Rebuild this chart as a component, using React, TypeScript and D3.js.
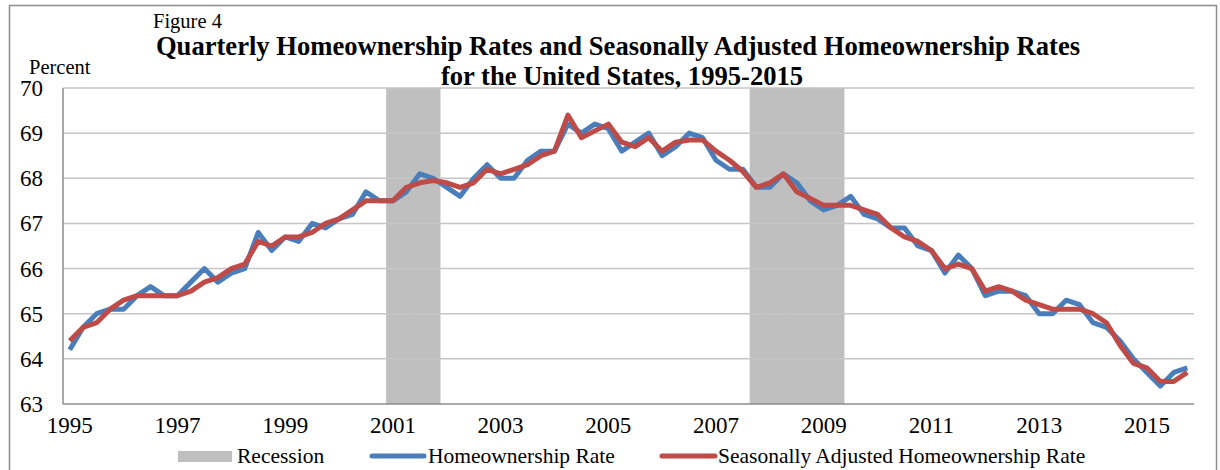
import { useEffect, useRef } from 'react';
import * as d3 from 'd3';

const years = d3.range(1995, 2016);
const quarters = years.flatMap(y => [1, 2, 3, 4].map(q => `${y}Q${q}`));

const homeownership = [
  64.2, 64.7, 65.0, 65.1,
  65.1, 65.4, 65.6, 65.4,
  65.4, 65.7, 66.0, 65.7,
  65.9, 66.0, 66.8, 66.4,
  66.7, 66.6, 67.0, 66.9,
  67.1, 67.2, 67.7, 67.5,
  67.5, 67.7, 68.1, 68.0,
  67.8, 67.6, 68.0, 68.3,
  68.0, 68.0, 68.4, 68.6,
  68.6, 69.2, 69.0, 69.2,
  69.1, 68.6, 68.8, 69.0,
  68.5, 68.7, 69.0, 68.9,
  68.4, 68.2, 68.2, 67.8,
  67.8, 68.1, 67.9, 67.5,
  67.3, 67.4, 67.6, 67.2,
  67.1, 66.9, 66.9, 66.5,
  66.4, 65.9, 66.3, 66.0,
  65.4, 65.5, 65.5, 65.4,
  65.0, 65.0, 65.3, 65.2,
  64.8, 64.7, 64.4, 64.0,
  63.7, 63.4, 63.7, 63.8,
];

const seasonallyAdjusted = [
  64.4, 64.7, 64.8, 65.1,
  65.3, 65.4, 65.4, 65.4,
  65.4, 65.5, 65.7, 65.8,
  66.0, 66.1, 66.6, 66.5,
  66.7, 66.7, 66.8, 67.0,
  67.1, 67.3, 67.5, 67.5,
  67.5, 67.8, 67.9, 67.95,
  67.9, 67.8, 67.9, 68.2,
  68.1, 68.2, 68.3, 68.5,
  68.6, 69.4, 68.9, 69.05,
  69.2, 68.8, 68.7, 68.9,
  68.6, 68.8, 68.85, 68.85,
  68.6, 68.4, 68.15, 67.8,
  67.9, 68.1, 67.7, 67.55,
  67.4, 67.4, 67.4, 67.3,
  67.2, 66.9, 66.7, 66.6,
  66.4, 66.0, 66.1, 66.0,
  65.5, 65.6, 65.5, 65.3,
  65.2, 65.1, 65.1, 65.1,
  65.0, 64.8, 64.3, 63.9,
  63.8, 63.5, 63.5, 63.7,
];

// quarters in recession (2001Q1-2001Q4, 2007Q4-2009Q2)
const recessionQuarters = [
  '2001Q1', '2001Q2', '2001Q3', '2001Q4',
  '2007Q4', '2008Q1', '2008Q2', '2008Q3', '2008Q4', '2009Q1', '2009Q2',
];

const yTicks = [63, 64, 65, 66, 67, 68, 69, 70];
const xTickYears = ['1995', '1997', '1999', '2001', '2003', '2005', '2007', '2009', '2011', '2013', '2015'];

const W = 1220;
const H = 470;
const FONT = '"Liberation Serif", "Times New Roman", serif';

export default function App() {
  const svgRef = useRef<SVGSVGElement>(null);

  useEffect(() => {
    if (!svgRef.current) return;
    const svg = d3.select(svgRef.current);
    svg.selectAll('*').remove();

    const left = 63, right = 1194, top = 88, bottom = 404;

    const x = d3.scaleBand<string>().domain(quarters).range([left, right]).padding(0);
    const y = d3.scaleLinear().domain([63, 70]).range([bottom, top]);
    const cx = (q: string) => x(q)! + x.bandwidth() / 2;

    // outer frame
    svg.append('rect')
      .attr('x', 9.5).attr('y', 5.5)
      .attr('width', 1207).attr('height', 480)
      .attr('fill', 'none').attr('stroke', '#8c8c8c').attr('stroke-width', 1.5);

    // titles
    svg.append('text')
      .attr('x', 153).attr('y', 28)
      .attr('font-family', FONT).attr('font-size', 20.5)
      .text('Figure 4');
    svg.append('text')
      .attr('x', 618).attr('y', 55)
      .attr('text-anchor', 'middle')
      .attr('font-family', FONT).attr('font-size', 26.6).attr('font-weight', 'bold')
      .text('Quarterly Homeownership Rates and Seasonally Adjusted Homeownership Rates');
    svg.append('text')
      .attr('x', 622).attr('y', 85)
      .attr('text-anchor', 'middle')
      .attr('font-family', FONT).attr('font-size', 26.6).attr('font-weight', 'bold')
      .text('for the United States, 1995-2015');
    svg.append('text')
      .attr('x', 29).attr('y', 74)
      .attr('font-family', FONT).attr('font-size', 20.5)
      .text('Percent');

    const g = svg.append('g');

    // recession shading
    g.selectAll('.rec')
      .data(recessionQuarters)
      .join('rect')
      .attr('class', 'rec')
      .attr('x', d => x(d)!)
      .attr('y', y(70))
      .attr('width', x.bandwidth() + 0.5)
      .attr('height', y(63) - y(70))
      .attr('fill', '#bfbfbf');

    // gridlines
    g.selectAll('.grid')
      .data(yTicks.filter(t => t > 63))
      .join('line')
      .attr('class', 'grid')
      .attr('x1', left).attr('x2', right)
      .attr('y1', d => y(d)).attr('y2', d => y(d))
      .attr('stroke', '#c6c6c6').attr('stroke-width', 1.5);

    // axes lines
    g.append('line')
      .attr('x1', left).attr('x2', left).attr('y1', top).attr('y2', bottom)
      .attr('stroke', '#8c8c8c').attr('stroke-width', 1.5);
    g.append('line')
      .attr('x1', left).attr('x2', right).attr('y1', bottom).attr('y2', bottom)
      .attr('stroke', '#8c8c8c').attr('stroke-width', 1.5);

    // y labels
    g.selectAll('.ylab')
      .data(yTicks)
      .join('text')
      .attr('class', 'ylab')
      .attr('x', 43).attr('y', d => y(d) + 8)
      .attr('text-anchor', 'end')
      .attr('font-family', FONT).attr('font-size', 23)
      .text(d => d);

    // x labels
    g.selectAll('.xlab')
      .data(xTickYears)
      .join('text')
      .attr('class', 'xlab')
      .attr('x', d => cx(`${d}Q1`))
      .attr('y', 433)
      .attr('text-anchor', 'middle')
      .attr('font-family', FONT).attr('font-size', 23)
      .text(d => d);

    const line = d3.line<number>()
      .x((_, i) => cx(quarters[i]))
      .y(d => y(d));

    g.append('path')
      .attr('d', line(homeownership))
      .attr('fill', 'none').attr('stroke', '#4a7ebb').attr('stroke-width', 5)
      .attr('stroke-linejoin', 'round');
    g.append('path')
      .attr('d', line(seasonallyAdjusted))
      .attr('fill', 'none').attr('stroke', '#be4b48').attr('stroke-width', 5)
      .attr('stroke-linejoin', 'round');

    // legend
    const lg = svg.append('g').attr('font-family', FONT).attr('font-size', 21.5);
    lg.append('rect').attr('x', 178).attr('y', 451).attr('width', 54).attr('height', 11).attr('fill', '#bfbfbf');
    lg.append('text').attr('x', 237).attr('y', 463).text('Recession');
    lg.append('line').attr('x1', 372).attr('x2', 424).attr('y1', 456).attr('y2', 456)
      .attr('stroke', '#4a7ebb').attr('stroke-width', 5).attr('stroke-linecap', 'round');
    lg.append('text').attr('x', 428).attr('y', 463).text('Homeownership Rate');
    lg.append('line').attr('x1', 662).attr('x2', 715).attr('y1', 456).attr('y2', 456)
      .attr('stroke', '#be4b48').attr('stroke-width', 5).attr('stroke-linecap', 'round');
    lg.append('text').attr('x', 718).attr('y', 463).text('Seasonally Adjusted Homeownership Rate');
  }, []);

  return (
    <svg
      ref={svgRef}
      width={W}
      height={H}
      style={{ position: 'absolute', left: 0, top: 0, background: '#fff' }}
    />
  );
}
